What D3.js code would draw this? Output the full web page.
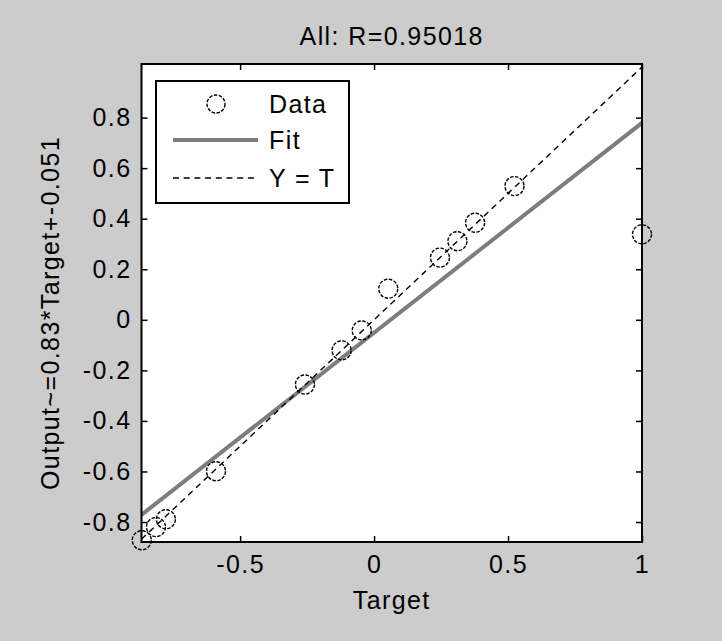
<!DOCTYPE html>
<html><head><meta charset="utf-8">
<script src="https://cdn.jsdelivr.net/npm/d3@7"></script>
<style>
body{margin:0;background:#cccccc;}
text{font-family:"Liberation Sans",Arial,Helvetica,sans-serif;}
</style>
</head><body><svg id="c" width="722" height="641"></svg>
<script>
const targets = [-0.867,-0.814,-0.777,-0.590,-0.258,-0.121,-0.046,0.053,0.246,0.311,0.377,0.524,1.0];
const outputs = [-0.872,-0.820,-0.789,-0.599,-0.256,-0.121,-0.042,0.123,0.246,0.311,0.384,0.529,0.338];
const fitSlope = 0.83, fitIntercept = -0.051;
const xDomain = [-0.868, 1];
const yDomain = [-0.879, 1.012];
const xTicks = [-0.5, 0, 0.5, 1];
const yTicks = [-0.8, -0.6, -0.4, -0.2, 0, 0.2, 0.4, 0.6, 0.8];
const titleText = "All: R=0.95018";
const xLabel = "Target";
const yLabel = "Output~=0.83*Target+-0.051";
const legendLabels = ["Data", "Fit", "Y = T"];

const W = 722, H = 641;
const L = 141.5, R = 642, T = 64, B = 542;
const FS = 25, LS = 1.4;
const svg = d3.select("#c");
svg.append("rect").attr("width", W).attr("height", H).attr("fill", "#cccccc");

const x = d3.scaleLinear().domain(xDomain).range([L, R]);
const y = d3.scaleLinear().domain(yDomain).range([B, T]);

svg.append("rect").attr("x", L).attr("y", T).attr("width", R - L).attr("height", B - T).attr("fill", "#fff");

svg.append("clipPath").attr("id", "clip").append("rect")
  .attr("x", L).attr("y", T).attr("width", R - L).attr("height", B - T);

const styleAxis = g => {
  g.select(".domain").remove();
  g.selectAll(".tick line").attr("stroke", "#000").attr("stroke-width", 1.5);
  g.selectAll(".tick text").attr("fill", "#000").style("font-size", FS + "px").style("letter-spacing", LS + "px")
    .attr("font-family", '"Liberation Sans",Arial,sans-serif');
};

svg.append("g").attr("transform", `translate(0,${B})`)
  .call(d3.axisBottom(x).tickValues(xTicks).tickFormat(d => String(d)).tickSizeInner(-6).tickSizeOuter(0).tickPadding(13))
  .call(styleAxis);
svg.append("g").attr("transform", `translate(0,${T})`)
  .call(d3.axisTop(x).tickValues(xTicks).tickFormat("").tickSizeInner(-6).tickSizeOuter(0))
  .call(styleAxis);
svg.append("g").attr("transform", `translate(${L},0)`)
  .call(d3.axisLeft(y).tickValues(yTicks).tickFormat(d => String(d)).tickSizeInner(-6).tickSizeOuter(0).tickPadding(10))
  .call(styleAxis);
svg.append("g").attr("transform", `translate(${R},0)`)
  .call(d3.axisRight(y).tickValues(yTicks).tickFormat("").tickSizeInner(-6).tickSizeOuter(0))
  .call(styleAxis);

const plot = svg.append("g").attr("clip-path", "url(#clip)");
// data circles (unclipped)
svg.append("g").selectAll("circle").data(targets).join("circle")
  .attr("cx", d => x(d)).attr("cy", (d, i) => y(outputs[i])).attr("r", 9.5)
  .attr("fill", "none").attr("stroke", "#000").attr("stroke-width", 1.4).attr("stroke-dasharray", "3.5 1.5");

plot.append("line")
  .attr("x1", x(xDomain[0])).attr("y1", y(fitSlope * xDomain[0] + fitIntercept))
  .attr("x2", x(xDomain[1])).attr("y2", y(fitSlope * xDomain[1] + fitIntercept))
  .attr("stroke", "#7d7d7d").attr("stroke-width", 4);
plot.append("line")
  .attr("x1", x(xDomain[0])).attr("y1", y(xDomain[0]))
  .attr("x2", x(xDomain[1])).attr("y2", y(xDomain[1]))
  .attr("stroke", "#000").attr("stroke-width", 1.4).attr("stroke-dasharray", "6 4.7");

// box
svg.append("rect").attr("x", L).attr("y", T).attr("width", R - L).attr("height", B - T)
  .attr("fill", "none").attr("stroke", "#000").attr("stroke-width", 2);

// legend
const lg = svg.append("g");
lg.append("rect").attr("x", 156).attr("y", 81).attr("width", 193).attr("height", 122)
  .attr("fill", "#fff").attr("stroke", "#000").attr("stroke-width", 2);
const rows = [104, 140, 178];
lg.append("circle").attr("cx", 216).attr("cy", rows[0]).attr("r", 9)
  .attr("fill", "none").attr("stroke", "#000").attr("stroke-width", 1.4).attr("stroke-dasharray", "3.5 1.5");
lg.append("line").attr("x1", 173).attr("x2", 258).attr("y1", rows[1]).attr("y2", rows[1])
  .attr("stroke", "#7d7d7d").attr("stroke-width", 4);
lg.append("line").attr("x1", 173).attr("x2", 258).attr("y1", rows[2]).attr("y2", rows[2])
  .attr("stroke", "#000").attr("stroke-width", 1.4).attr("stroke-dasharray", "6 4.7");
lg.selectAll("text.lt").data(legendLabels).join("text").attr("class", "lt")
  .attr("x", 269).attr("y", (d, i) => rows[i]).attr("dy", "0.35em")
  .style("font-size", FS + "px").style("letter-spacing", LS + "px").text(d => d);

// title and labels
svg.append("text").attr("x", (L + R) / 2).attr("y", 36).attr("dy", "0.35em").attr("text-anchor", "middle")
  .style("font-size", FS + "px").style("letter-spacing", LS + "px").text(titleText);
svg.append("text").attr("x", (L + R) / 2).attr("y", 600).attr("dy", "0.35em").attr("text-anchor", "middle")
  .style("font-size", FS + "px").style("letter-spacing", LS + "px").text(xLabel);
svg.append("text").attr("transform", `translate(50,313) rotate(-90)`).attr("dy", "0.35em").attr("text-anchor", "middle")
  .style("font-size", FS + "px").style("letter-spacing", LS + "px").text(yLabel);
</script></body></html>
